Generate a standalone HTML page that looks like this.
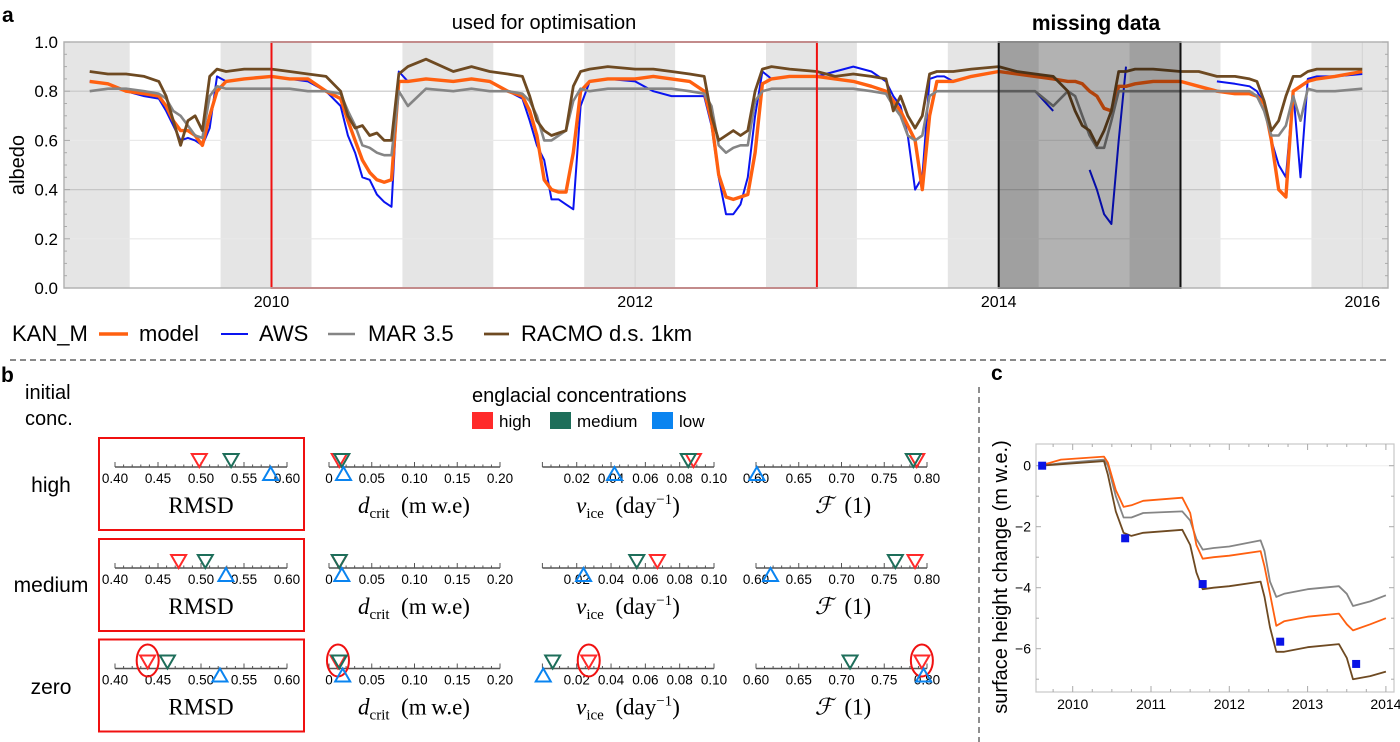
<!DOCTYPE html>
<html><head><meta charset="utf-8">
<style>
html,body{margin:0;padding:0;background:#fff;}
svg{display:block;font-family:"Liberation Sans",sans-serif;}
.serif{font-family:"Liberation Serif",serif;}
</style></head>
<body>
<svg id="fig" width="1400" height="742" viewBox="0 0 1400 742" xmlns="http://www.w3.org/2000/svg">
  <g id="panelA"></g>
  <g id="panelB"></g>
  <g id="panelC"></g>
</svg>
<script>
// ---------- Panel a data ----------
const albedoDates = [
2009,2009.1,2009.2,2009.3,2009.38,2009.42,2009.46,2009.5,2009.54,2009.58,2009.62,2009.66,2009.7,2009.75,2009.85,
2010,2010.1,2010.2,2010.3,2010.38,2010.42,2010.46,2010.5,2010.54,2010.58,2010.62,2010.66,2010.7,2010.75,2010.85,
2011,2011.1,2011.2,2011.3,2011.38,2011.42,2011.46,2011.5,2011.54,2011.58,2011.62,2011.66,2011.7,2011.75,2011.85,
2012,2012.1,2012.2,2012.3,2012.38,2012.42,2012.46,2012.5,2012.54,2012.58,2012.62,2012.66,2012.7,2012.75,2012.85,
2013,2013.1,2013.2,2013.3,2013.38,2013.42,2013.46,2013.5,2013.54,2013.58,2013.62,2013.66,2013.7,2013.75,2013.85,
2014,2014.1,2014.2,2014.3,2014.38,2014.42,2014.46,2014.5,2014.54,2014.58,2014.62,2014.66,2014.7,2014.75,2014.85,
2015,2015.1,2015.2,2015.3,2015.38,2015.42,2015.46,2015.5,2015.54,2015.58,2015.62,2015.66,2015.7,2015.75,2015.85,
2016];
const modelAlbedo = [
.84,.83,.80,.79,.78,.74,.68,.64,.64,.62,.58,.70,.80,.84,.85,
.86,.85,.85,.80,.77,.68,.60,.52,.47,.44,.43,.44,.84,.84,.85,
.84,.85,.84,.80,.78,.72,.62,.44,.40,.39,.39,.55,.80,.84,.85,
.85,.86,.85,.84,.80,.68,.46,.37,.36,.37,.38,.55,.83,.85,.86,
.86,.85,.84,.82,.80,.76,.72,.66,.60,.40,.70,.84,.84,.84,.86,
.88,.87,.86,.85,.84,.84,.83,.80,.78,.73,.72,.82,.82,.83,.84,
.84,.82,.80,.79,.79,.78,.75,.60,.40,.37,.80,.82,.84,.85,.86,
.88];
const awsAlbedo = [
.84,.83,.80,.78,.77,.72,.66,.60,.61,.60,.58,.65,.86,.84,.85,
.86,.85,.84,.80,.74,.62,.55,.45,.44,.38,.35,.33,.88,.84,.85,
.84,.85,.84,.80,.77,.68,.58,.52,.36,.36,.34,.32,.74,.84,.85,
.84,.80,.78,.78,.78,.66,.45,.30,.30,.34,.45,.70,.88,.85,.86,
.86,.88,.90,.88,.84,.78,.74,.62,.40,.45,.85,.86,.86,.84,.86,
null,null,.80,.72,null,null,null,.48,.40,.30,.26,.60,.90,null,null,
null,null,.84,.83,.82,.80,.75,.60,.50,.45,.80,.45,.85,.86,.86,
.87];
const marAlbedo = [
.80,.81,.81,.80,.79,.77,.72,.70,.66,.62,.61,.78,.82,.81,.81,
.81,.81,.80,.80,.79,.72,.66,.58,.57,.55,.54,.54,.80,.74,.81,
.80,.81,.80,.80,.79,.76,.70,.60,.60,.62,.64,.76,.81,.80,.81,
.81,.81,.81,.80,.79,.74,.58,.55,.57,.58,.58,.76,.80,.81,.81,
.81,.81,.81,.80,.79,.74,.70,.62,.60,.62,.78,.80,.80,.80,.80,
.80,.80,.80,.74,.80,.78,.70,.62,.57,.57,.68,.80,.80,.80,.80,
.80,.80,.80,.80,.80,.78,.72,.62,.62,.66,.78,.68,.81,.80,.80,
.81];
const racmoAlbedo = [
.88,.87,.87,.86,.84,.78,.68,.58,.68,.70,.64,.86,.89,.88,.89,
.89,.88,.87,.86,.80,.70,.65,.66,.62,.63,.60,.60,.87,.90,.93,
.88,.90,.88,.87,.86,.78,.68,.64,.62,.63,.64,.82,.88,.89,.90,
.89,.89,.88,.87,.86,.70,.60,.62,.64,.62,.64,.80,.89,.90,.89,
.88,.86,.87,.86,.85,.72,.78,.70,.65,.70,.87,.88,.88,.88,.89,
.90,.88,.87,.86,.80,.72,.66,.64,.58,.64,.72,.88,.88,.89,.89,
.88,.88,.86,.86,.85,.84,.76,.64,.68,.78,.86,.86,.88,.89,.89,
.89];
const albedoTicks = [0,0.2,0.4,0.6,0.8,1.0];
const albedoTickLabels = ["0.0","0.2","0.4","0.6","0.8","1.0"];
const yearTicks = [2010,2012,2014,2016];
const winterStarts = [2008.72,2009.72,2010.72,2011.72,2012.72,2013.72,2014.72,2015.72];

// ---------- Panel b data (rows: high, medium, zero; markers: high, medium, low conc.) ----------
const rowNames = ["high","medium","zero"];
const rmsdVals = [[0.498,0.535,0.581],[0.474,0.505,0.529],[0.438,0.461,0.522]];
const dcritVals = [[0.012,0.015,0.017],[0.012,0.012,0.015],[0.0105,0.012,0.016]];
const nuVals = [[0.088,0.085,0.042],[0.067,0.055,0.024],[0.027,0.006,0.0005]];
const fVals = [[0.788,0.784,0.601],[0.786,0.763,0.617],[0.794,0.71,0.796]];
const rmsdTickLabels = ["0.40","0.45","0.50","0.55","0.60"];
const dcritTickLabels = ["0","0.05","0.10","0.15","0.20"];
const nuTickLabels = ["0.02","0.04","0.06","0.08","0.10"];
const fTickLabels = ["0.60","0.65","0.70","0.75","0.80"];

// ---------- Panel c data ----------
const heightDates = [2009.58,2009.85,2010.4,2010.45,2010.55,2010.65,2010.75,2010.9,2011.4,2011.5,2011.58,2011.66,2011.8,2012.0,2012.4,2012.45,2012.52,2012.6,2012.7,2013.0,2013.4,2013.5,2013.58,2013.8,2014.0];
const modelHeight = [0,0.2,0.3,0.1,-0.8,-1.35,-1.3,-1.15,-1.05,-1.55,-2.6,-3.05,-3.0,-2.95,-2.8,-3.3,-4.2,-5.25,-5.1,-4.95,-4.85,-5.2,-5.4,-5.2,-5.0];
const marHeight = [0,0.08,0.2,0.0,-1.0,-1.7,-1.7,-1.55,-1.5,-1.8,-2.4,-2.75,-2.7,-2.65,-2.45,-2.8,-3.8,-4.3,-4.2,-4.05,-3.95,-4.2,-4.6,-4.45,-4.25];
const racmoHeight = [0,0.05,0.15,-0.3,-1.5,-2.2,-2.3,-2.2,-2.1,-2.6,-3.5,-4.05,-4.0,-3.95,-3.8,-4.3,-5.3,-6.1,-6.1,-5.95,-5.85,-6.3,-7.0,-6.9,-6.75];
const obsDates = [2009.61,2010.67,2011.66,2012.65,2013.62];
const obsHeight = [0,-2.38,-3.88,-5.77,-6.5];
const heightTicks = [0,-2,-4,-6];
const heightTickLabels = ["0","\u22122","\u22124","\u22126"];
const heightYearTicks = [2010,2011,2012,2013,2014];

const NS = "http://www.w3.org/2000/svg";
function mk(parent, tag, attrs, text){
  const e = document.createElementNS(NS, tag);
  for (const k in attrs) e.setAttribute(k, attrs[k]);
  if (text !== undefined) e.textContent = text;
  parent.appendChild(e);
  return e;
}
function linePath(xs, ys, fx, fy){
  let d = "", pen = false;
  for (let i=0;i<xs.length;i++){
    if (ys[i]===null){pen=false;continue;}
    d += (pen?"L":"M") + fx(xs[i]).toFixed(1) + " " + fy(ys[i]).toFixed(1);
    pen = true;
  }
  return d;
}

// ================= PANEL A =================
const A = document.getElementById("panelA");
const ax = t => 271.5 + (t-2010)*181.8;
const ay = v => 288 - v*246;
const aL = 64, aR = 1388, aT = 42, aB = 288;

let t = mk(A,"text",{x:2,y:22,"font-size":21,"font-weight":"bold"},"a");
 

let bg = mk(A,"rect",{x:aL,y:aT,width:aR-aL,height:aB-aT,fill:"#fff"});
 

winterStarts.forEach(w=>{
  const x0 = Math.max(aL, ax(w)), x1 = Math.min(aR, ax(w+0.5));
  const r = mk(A,"rect",{x:x0,y:aT,width:x1-x0,height:aB-aT,fill:"#e5e5e5"});
  
  
});
albedoTicks.forEach((v,i)=>{
  if (v===0||v===1) return;
  const g = mk(A,"line",{x1:aL,x2:aR,y1:ay(v),y2:ay(v),stroke:(v===0.4||v===0.8)?"#c6c6c6":"#e9e9e9","stroke-width":1.2});
  
  
});
yearTicks.forEach(y=>{
  const g = mk(A,"line",{x1:ax(y),x2:ax(y),y1:aT,y2:aB,stroke:"#d2d2d2","stroke-width":1});
  
  
});

const seriesA = [
  {name:"aws-line", vals:awsAlbedo, color:"#0a14f0", w:2},
  {name:"model-line", vals:modelAlbedo, color:"#ff6010", w:3.4},
  {name:"mar-line", vals:marAlbedo, color:"#858585", w:2.6},
  {name:"racmo-line", vals:racmoAlbedo, color:"#6e4a22", w:2.8}
];
seriesA.forEach(s=>{
  const p = mk(A,"path",{d:linePath(albedoDates,s.vals,ax,ay),fill:"none",stroke:s.color,"stroke-width":s.w,"stroke-linejoin":"round"});
  
  
});

// missing data overlay
let md = mk(A,"rect",{x:ax(2014),y:aT,width:ax(2015)-ax(2014),height:aB-aT,fill:"rgba(0,0,0,0.3)",stroke:"#111","stroke-width":2});
 
let mdt = mk(A,"text",{x:1096,y:30,"font-size":21,"font-weight":"bold","text-anchor":"middle"},"missing data");
 

// optimisation box
let ob = mk(A,"rect",{x:ax(2010),y:aT,width:ax(2013)-ax(2010),height:aB-aT,fill:"none",stroke:"#f01010","stroke-width":2});
 
let obt = mk(A,"text",{x:544,y:29,"font-size":20,"text-anchor":"middle"},"used for optimisation");
 

// frame
let fr = mk(A,"rect",{x:aL,y:aT,width:aR-aL,height:aB-aT,fill:"none",stroke:"#b4b4b4","stroke-width":1.5});
 
// minor y ticks
for (let k=0;k<=20;k++){
  const v = k*0.05;
  const len = (k%4===0)?6:3;
  const l1 = mk(A,"line",{x1:aL,x2:aL+len,y1:ay(v),y2:ay(v),stroke:"#aaa","stroke-width":1});
   
  const l2 = mk(A,"line",{x1:aR,x2:aR-len,y1:ay(v),y2:ay(v),stroke:"#aaa","stroke-width":1});
   
}
albedoTicks.forEach((v,i)=>{
  const tx = mk(A,"text",{x:58,y:ay(v)+6,"font-size":17,"text-anchor":"end"},albedoTickLabels[i]);
   
});
yearTicks.forEach(y=>{
  const tx = mk(A,"text",{x:ax(y),y:307,"font-size":16,"text-anchor":"middle"},String(y));
   
});
let yt = mk(A,"text",{x:0,y:0,"font-size":20,"text-anchor":"middle",transform:"translate(24,165) rotate(-90)"},"albedo");
 

// legend
let lg = mk(A,"g",{});
 
let st = mk(lg,"text",{x:12,y:341,"font-size":22},"KAN_M");
 
const legendItems = [
  {x0:99,x1:128,tx:139,label:"model",color:"#ff6010",w:3.4},
  {x0:221,x1:248,tx:259,label:"AWS",color:"#0a14f0",w:2},
  {x0:328,x1:355,tx:368,label:"MAR 3.5",color:"#858585",w:2.6},
  {x0:484,x1:509,tx:521,label:"RACMO d.s. 1km",color:"#6e4a22",w:2.8}
];
legendItems.forEach(it=>{
  const l = mk(lg,"line",{x1:it.x0,x2:it.x1,y1:334,y2:334,stroke:it.color,"stroke-width":it.w});
   
  const tx = mk(lg,"text",{x:it.tx,y:341,"font-size":22},it.label);
   
});

// separators
let sep1 = mk(A,"line",{x1:10,x2:1386,y1:360,y2:360,stroke:"#444","stroke-width":1.2,"stroke-dasharray":"6 4"});
 
let sep2 = mk(A,"line",{x1:979,x2:979,y1:387,y2:742,stroke:"#444","stroke-width":1.2,"stroke-dasharray":"6 4"});
 

// ================= PANEL B =================
const B = document.getElementById("panelB");
let bl = mk(B,"text",{x:1,y:382,"font-size":21,"font-weight":"bold"},"b");
 
let ic1 = mk(B,"text",{x:25,y:399,"font-size":20},"initial");
 
let ic2 = mk(B,"text",{x:25,y:425,"font-size":20},"conc.");
 
let et = mk(B,"text",{x:472,y:402,"font-size":20},"englacial concentrations");
 
const concColors = ["#ff2a2a","#1e6e5a","#0a84f0"];
const concLabels = ["high","medium","low"];
const concBoxX = [472,550,652];
concLabels.forEach((c,i)=>{
  const r = mk(B,"rect",{x:concBoxX[i],y:412,width:21,height:17,fill:concColors[i]});
   
  const tx = mk(B,"text",{x:concBoxX[i]+27,y:427,"font-size":17},c);
   
});

const rowY = [467,568,668.5];
const rowLabelY = [492,592,694];
const params = [
  {name:"rmsd", vals:rmsdVals, x0:115, x1:287, min:0.40, max:0.60, labels:rmsdTickLabels, labelStart:0.40, step:0.05, minor:0.01, cx:201},
  {name:"dcrit", vals:dcritVals, x0:329, x1:500, min:0, max:0.20, labels:dcritTickLabels, labelStart:0, step:0.05, minor:0.01, cx:414},
  {name:"nu-ice", vals:nuVals, x0:542.4, x1:714, min:0, max:0.10, labels:nuTickLabels, labelStart:0.02, step:0.02, minor:0.005, cx:628},
  {name:"f", vals:fVals, x0:756, x1:927, min:0.60, max:0.80, labels:fTickLabels, labelStart:0.60, step:0.05, minor:0.01, cx:843}
];

rowNames.forEach((rn,r)=>{
  const y0 = rowY[r];
  const lab = mk(B,"text",{x:51,y:rowLabelY[r],"font-size":21,"text-anchor":"middle"},rn);
   
  const box = mk(B,"rect",{x:99,y:y0-29,width:205,height:92,fill:"none",stroke:"#f01010","stroke-width":2});
   
  params.forEach(p=>{
    const sx = v => p.x0 + (v-p.min)/(p.max-p.min)*(p.x1-p.x0);
    const g = mk(B,"g",{});
    
    
    mk(g,"line",{x1:p.x0,x2:p.x1,y1:y0,y2:y0,stroke:"#555","stroke-width":1.6});
    const nMinor = Math.round((p.max-p.min)/p.minor);
    for (let k=0;k<=nMinor;k++){
      const v = p.min + k*p.minor;
      const major = Math.abs(((v-p.min)/p.step) - Math.round((v-p.min)/p.step))<1e-6;
      mk(g,"line",{x1:sx(v),x2:sx(v),y1:y0,y2:y0-(major?5:2.5),stroke:"#555","stroke-width":1});
    }
    p.labels.forEach((L,i)=>{
      const v = p.labelStart + i*p.step;
      const tx = mk(g,"text",{x:sx(v),y:y0+16,"font-size":13.5,"text-anchor":"middle"},L);
      
      
    });
    // axis title
    const ty = y0+46;
    let title;
    if (p.name==="rmsd"){
      title = mk(g,"text",{x:p.cx,y:ty,"font-size":23,"text-anchor":"middle","class":"serif"},"RMSD");
    } else if (p.name==="dcrit"){
      title = mk(g,"text",{x:p.cx,y:ty,"font-size":23,"text-anchor":"middle","class":"serif"});
      mk(title,"tspan",{"font-style":"italic"},"d");
      mk(title,"tspan",{"font-size":15,dy:5},"crit");
      mk(title,"tspan",{dy:-5},"\u2002(m\u2009w.e)");
    } else if (p.name==="nu-ice"){
      title = mk(g,"text",{x:p.cx,y:ty,"font-size":23,"text-anchor":"middle","class":"serif"});
      mk(title,"tspan",{"font-style":"italic"},"\u03BD");
      mk(title,"tspan",{"font-size":15,dy:5},"ice");
      mk(title,"tspan",{dy:-5},"\u2002(day");
      mk(title,"tspan",{"font-size":15,dy:-9},"\u22121");
      mk(title,"tspan",{dy:9},")");
    } else {
      title = mk(g,"text",{x:p.cx,y:ty,"font-size":23,"text-anchor":"middle","class":"serif"});
      mk(title,"tspan",{"font-style":"italic"},"\u2131");
      mk(title,"tspan",{},"\u2002(1)");
    }
    
    
    // markers
    p.vals[r].forEach((v,ci)=>{
      const x = sx(v);
      let d;
      if (ci<2) d = `M${x-7.5} ${y0-13}L${x+7.5} ${y0-13}L${x} ${y0}Z`;
      else d = `M${x-7.5} ${y0+13}L${x+7.5} ${y0+13}L${x} ${y0}Z`;
      const m = mk(B,"path",{d:d,fill:"none",stroke:concColors[ci],"stroke-width":2,"stroke-linejoin":"miter"});
      
      
      if (r===2 && ci===0){
        const c = mk(B,"ellipse",{cx:x,cy:y0-8,rx:11,ry:16,fill:"none",stroke:"#f01010","stroke-width":2});
        
        
      }
    });
  });
});

// ================= PANEL C =================
const C = document.getElementById("panelC");
const cx = t => 1072.7 + (t-2010)*78.3;
const cy = v => 465.7 - v*30.5;
const cL=1036, cR=1394, cT=444, cB=692;
let cl = mk(C,"text",{x:991,y:380,"font-size":21,"font-weight":"bold"},"c");
 
let cf = mk(C,"rect",{x:cL,y:cT,width:cR-cL,height:cB-cT,fill:"#fff",stroke:"#c8c8c8","stroke-width":1.2});
 
let zl = mk(C,"line",{x1:cL,x2:cR,y1:cy(0),y2:cy(0),stroke:"#eee","stroke-width":1});
 
for (let k=-7;k<=0;k++){
  const l = mk(C,"line",{x1:cL,x2:cL+(k%2===0?5:3),y1:cy(k),y2:cy(k),stroke:"#aaa","stroke-width":1});
   
  const l2 = mk(C,"line",{x1:cR,x2:cR-(k%2===0?5:3),y1:cy(k),y2:cy(k),stroke:"#aaa","stroke-width":1});
   
}
for (let q=2009.75;q<=2014.01;q+=0.25){
  const maj = Math.abs(q-Math.round(q))<1e-6;
  const l = mk(C,"line",{x1:cx(q),x2:cx(q),y1:cB,y2:cB-(maj?6:3),stroke:"#aaa","stroke-width":1});
   
  const l2 = mk(C,"line",{x1:cx(q),x2:cx(q),y1:cT,y2:cT+(maj?6:3),stroke:"#aaa","stroke-width":1});
   
}
heightTicks.forEach((v,i)=>{
  const tx = mk(C,"text",{x:1031,y:cy(v)+5,"font-size":14,"text-anchor":"end"},heightTickLabels[i]);
   
});
heightYearTicks.forEach(y=>{
  const tx = mk(C,"text",{x:cx(y),y:709,"font-size":14,"text-anchor":"middle"},String(y));
   
});
let cyt = mk(C,"text",{x:0,y:0,"font-size":20,"text-anchor":"middle",transform:"translate(1007,577) rotate(-90)"},"surface height change (m w.e.)");
 
const seriesC = [
  {name:"mar-height-line", vals:marHeight, color:"#858585"},
  {name:"model-height-line", vals:modelHeight, color:"#ff6010"},
  {name:"racmo-height-line", vals:racmoHeight, color:"#6e4a22"}
];
seriesC.forEach(s=>{
  const p = mk(C,"path",{d:linePath(heightDates,s.vals,cx,cy),fill:"none",stroke:s.color,"stroke-width":1.8,"stroke-linejoin":"round"});
  
  
});
obsDates.forEach((d,i)=>{
  const r = mk(C,"rect",{x:cx(d)-4,y:cy(obsHeight[i])-4,width:8,height:8,fill:"#0a14e6"});
  
  
});
</script>
</body></html>
